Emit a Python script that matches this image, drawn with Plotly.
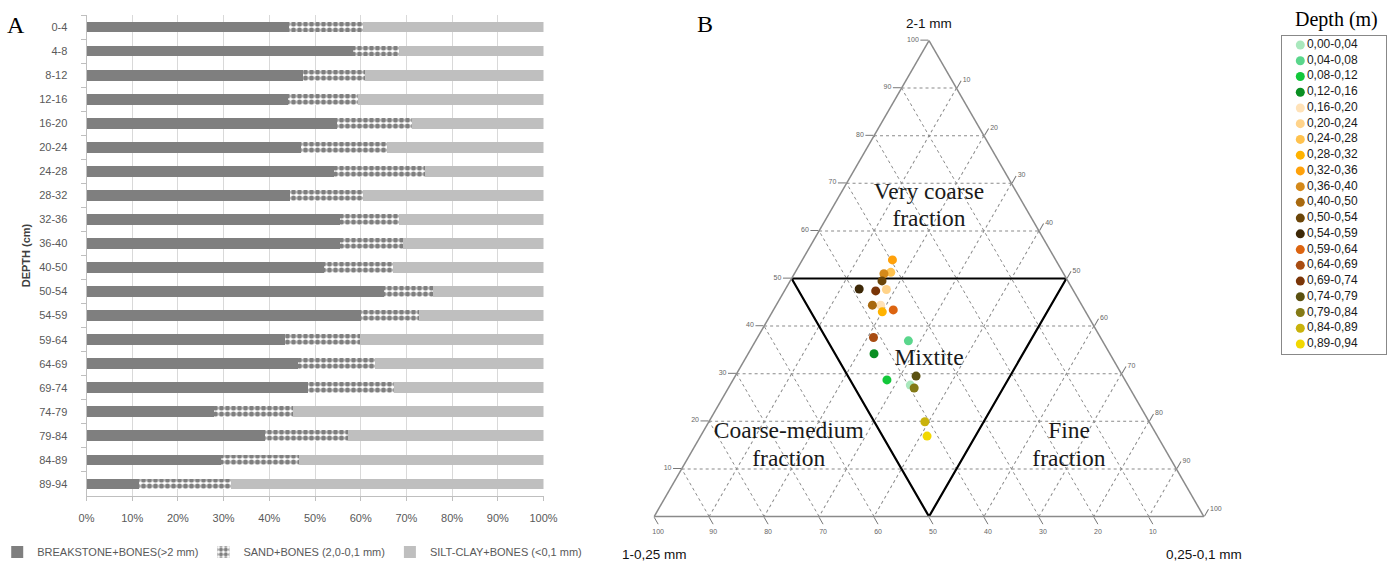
import plotly.graph_objects as go

# ---------------- Panel A data ----------------
depth_cm = ["0-4", "4-8", "8-12", "12-16", "16-20", "20-24", "24-28", "28-32", "32-36", "36-40",
            "40-50", "50-54", "54-59", "59-64", "64-69", "69-74", "74-79", "79-84", "84-89", "89-94"]
breakstone = [44.4, 58.4, 47.3, 44.2, 54.8, 47.0, 54.1, 44.5, 55.5, 55.5,
              51.9, 65.2, 60.0, 43.4, 46.2, 48.4, 28.0, 39.1, 29.4, 11.4]
sand = [16.2, 10.0, 13.6, 15.3, 16.5, 18.7, 20.0, 15.9, 12.9, 13.7,
        15.1, 10.6, 12.7, 16.4, 16.9, 18.8, 17.2, 18.2, 17.2, 20.2]
silt = [39.4, 31.6, 39.1, 40.5, 28.7, 34.3, 25.9, 39.6, 31.6, 30.8,
        33.0, 24.2, 27.3, 40.2, 36.9, 32.8, 54.8, 42.7, 53.4, 68.4]
x_ticks = [0, 10, 20, 30, 40, 50, 60, 70, 80, 90, 100]
x_tick_labels = ["0%", "10%", "20%", "30%", "40%", "50%", "60%", "70%", "80%", "90%", "100%"]

# ---------------- Panel B data ----------------
depth_m = ["0,00-0,04", "0,04-0,08", "0,08-0,12", "0,12-0,16", "0,16-0,20", "0,20-0,24",
           "0,24-0,28", "0,28-0,32", "0,32-0,36", "0,36-0,40", "0,40-0,50", "0,50-0,54",
           "0,54-0,59", "0,59-0,64", "0,64-0,69", "0,69-0,74", "0,74-0,79", "0,79-0,84",
           "0,84-0,89", "0,89-0,94"]
frac_2_1 = [27.6, 36.9, 28.7, 34.2, 44.4, 47.7, 51.3, 43.0, 53.9, 51.0,
            44.4, 49.5, 47.8, 43.4, 37.6, 47.4, 29.5, 27.0, 19.9, 16.9]
frac_1_025 = [39.6, 35.3, 43.3, 42.9, 36.6, 33.9, 31.3, 37.0, 29.7, 32.7,
              38.1, 33.8, 38.8, 34.8, 41.3, 36.0, 37.6, 39.2, 40.8, 41.9]
frac_025_01 = [32.8, 27.8, 28.0, 22.9, 19.0, 18.4, 17.4, 20.0, 16.4, 16.3,
               17.5, 16.7, 13.4, 21.8, 21.1, 16.6, 32.9, 33.8, 39.3, 41.2]
depth_colors = ["#a9e8bd", "#5ad68c", "#12c83a", "#0a8f22", "#ffe2b8", "#ffd38a",
                "#ffc24e", "#ffb300", "#ffa10a", "#d4891a", "#a8690f", "#6b4508",
                "#3d2807", "#dc6410", "#a84c12", "#7a3508", "#5a5010", "#847a16",
                "#c9b20c", "#f2d800"]
tern_ticks = [10, 20, 30, 40, 50, 60, 70, 80, 90, 100]

# classification boundaries (a, b, c)
bound_a = [50, 0, 50, 50]
bound_b = [50, 50, 0, 50]
bound_c = [0, 50, 50, 0]
# class labels, one text line each
region_text = ["Very coarse", "fraction", "Mixtite", "Coarse-medium", "fraction", "Fine", "fraction"]
region_a = [68.0, 62.3, 33.1, 17.8, 11.9, 17.8, 11.9]
region_b = [16.0, 18.85, 33.45, 66.6, 69.55, 15.6, 18.6]
region_c = [16.0, 18.85, 33.45, 15.6, 18.55, 66.6, 69.5]

W, H = 1389, 562
SANS = "Liberation Sans"
SERIF = "Liberation Serif"
TX0, TX1 = 654, 1204   # ternary triangle horizontal extent (px)

fig = go.Figure()

# ---- Panel A: stacked horizontal bars ----
fig.add_trace(go.Bar(
    y=depth_cm, x=breakstone, orientation="h", name="BREAKSTONE+BONES(>2 mm)",
    marker=dict(color="#7f7f7f", line=dict(width=0)), xaxis="x", yaxis="y"))
fig.add_trace(go.Bar(
    y=depth_cm, x=sand, orientation="h", name="SAND+BONES (2,0-0,1 mm)",
    marker=dict(color="white", line=dict(width=0),
                pattern=dict(shape=".", fgcolor="black", bgcolor="white", size=6, solidity=0.6)),
    xaxis="x", yaxis="y"))
fig.add_trace(go.Bar(
    y=depth_cm, x=silt, orientation="h", name="SILT-CLAY+BONES (<0,1 mm)",
    marker=dict(color="#bfbfbf", line=dict(width=0)), xaxis="x", yaxis="y"))

# ---- Panel B: ternary ----
fig.add_trace(go.Scatterternary(
    a=bound_a, b=bound_b, c=bound_c, mode="lines",
    line=dict(color="black", width=2.2), showlegend=False, hoverinfo="skip", subplot="ternary"))
fig.add_trace(go.Scatterternary(
    a=region_a, b=region_b, c=region_c, mode="text", text=region_text,
    textfont=dict(family=SERIF, size=23.5, color="#1a1a1a"), textposition="middle center",
    showlegend=False, hoverinfo="skip", subplot="ternary"))
fig.add_trace(go.Scatterternary(
    a=frac_2_1, b=frac_1_025, c=frac_025_01, mode="markers", text=depth_m,
    marker=dict(size=9, color=depth_colors, line=dict(width=0)),
    showlegend=False, subplot="ternary"))

# ---- Depth legend drawn as a small scatter panel ----
fig.add_trace(go.Scatter(
    x=[0.176] * len(depth_m), y=list(range(len(depth_m))), mode="markers+text",
    text=depth_m, textposition="middle right",
    textfont=dict(family=SANS, size=12, color="#1a1a1a"),
    marker=dict(size=9, color=depth_colors), showlegend=False, hoverinfo="skip",
    xaxis="x2", yaxis="y2"))

tern_axis = dict(
    title=dict(text=""),
    tickmode="array", tickvals=tern_ticks, ticks="outside", ticklen=8, tickcolor="#777",
    tickfont=dict(family=SANS, size=7, color="#666"),
    showline=True, linecolor="#8a8a8a", linewidth=1.5,
    showgrid=True, gridcolor="#8a8a8a", gridwidth=1, griddash="dot")

title_font = dict(family=SANS, size=13.5, color="#111")

fig.update_layout(
    width=W, height=H, margin=dict(l=0, r=0, t=0, b=0, autoexpand=False),
    paper_bgcolor="white", plot_bgcolor="white",
    barmode="stack", bargap=0.55,
    font=dict(family=SANS, color="#595959"),
    xaxis=dict(domain=[86.5 / W, 543.5 / W], range=[0, 100],
               tickmode="array", tickvals=x_ticks, ticktext=x_tick_labels,
               showgrid=True, gridcolor="#d9d9d9", gridwidth=1,
               zeroline=False, showline=True, linecolor="#bfbfbf",
               ticks="outside", ticklen=4, tickcolor="#bfbfbf", ticklabelstandoff=8,
               tickfont=dict(size=11, color="#595959"), fixedrange=True),
    yaxis=dict(domain=[(H - 496) / H, (H - 15) / H], type="category",
               categoryorder="array", categoryarray=depth_cm, autorange="reversed",
               tickson="boundaries", ticks="outside", ticklen=5, tickcolor="#bfbfbf",
               ticklabelstandoff=16,
               showline=True, linecolor="#bfbfbf", showgrid=False,
               tickfont=dict(size=11, color="#595959"),
               title=dict(text="<b>DEPTH (cm)</b>", font=dict(size=11, color="#404040"),
                          standoff=6)),
    legend=dict(orientation="h", x=-0.002, xanchor="left", y=(H - 552) / H, yanchor="middle",
                font=dict(size=11, color="#595959"), itemwidth=30,
                bgcolor="rgba(0,0,0,0)", traceorder="normal"),
    ternary=dict(
        domain=dict(x=[TX0 / W, TX1 / W], y=[(H - 516.5) / H, (H - 40.5) / H]),
        sum=100, bgcolor="white",
        aaxis=tern_axis, baxis=tern_axis, caxis=tern_axis,
    ),
    xaxis2=dict(domain=[1282 / W, 1386 / W], range=[0, 1], showgrid=False, zeroline=False,
                showticklabels=False, ticks="", showline=True, mirror=True,
                linecolor="#888", linewidth=1, fixedrange=True, anchor="y2"),
    yaxis2=dict(domain=[(H - 354) / H, (H - 36) / H], range=[19.635, -0.572],
                showgrid=False, zeroline=False, showticklabels=False, ticks="",
                showline=True, mirror=True, linecolor="#888", linewidth=1,
                fixedrange=True, anchor="x2"),
    annotations=[
        dict(text="A", x=16 / W, y=(H - 25) / H, xref="paper", yref="paper",
             xanchor="center", yanchor="middle",
             showarrow=False, font=dict(family=SERIF, size=24, color="black")),
        dict(text="B", x=705 / W, y=(H - 24) / H, xref="paper", yref="paper",
             xanchor="center", yanchor="middle",
             showarrow=False, font=dict(family=SERIF, size=24, color="black")),
        dict(text="Depth (m)", x=1336 / W, y=(H - 20) / H, xref="paper", yref="paper",
             xanchor="center", yanchor="middle",
             showarrow=False, font=dict(family=SERIF, size=20, color="black")),
        dict(text="2-1 mm", x=(TX0 + TX1) / 2 / W, y=(H - 23) / H, xref="paper", yref="paper",
             xanchor="center", yanchor="middle", showarrow=False, font=title_font),
        dict(text="1-0,25 mm", x=TX0 / W, y=(H - 554) / H, xref="paper", yref="paper",
             xanchor="center", yanchor="middle", showarrow=False, font=title_font),
        dict(text="0,25-0,1 mm", x=TX1 / W, y=(H - 554) / H, xref="paper", yref="paper",
             xanchor="center", yanchor="middle", showarrow=False, font=title_font),
    ],
)

fig.write_html("out.html", config={"displayModeBar": False},
               post_script="document.body.style.margin='0';document.body.style.overflow='hidden';")
